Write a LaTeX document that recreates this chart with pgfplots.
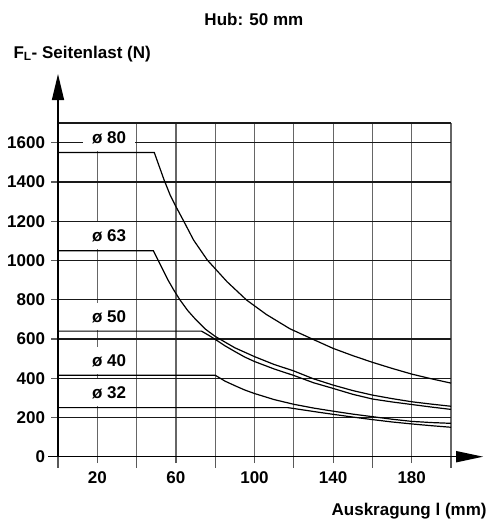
\documentclass[border=0pt]{standalone}
\usepackage{fontspec}
\setmainfont{Liberation Sans}
\usepackage{pgfplots}
\pgfplotsset{compat=1.18}
\usetikzlibrary{arrows.meta}
\newcommand\lbl{\fontsize{17}{20}\selectfont\bfseries}
\begin{document}
\begin{tikzpicture}
\useasboundingbox (-58pt,-65.3pt) rectangle (436pt,456.7pt);
\begin{axis}[
  at={(0pt,0pt)}, anchor=origin,
  scale only axis, width=393pt, height=333.6pt,
  xmin=0, xmax=200, ymin=0, ymax=1700,
  clip=false,
  axis line style={draw=none},
  tick align=outside,
  xtick pos=lower, ytick pos=left,
  xtick={0,20,...,200}, xticklabels={},
  minor xtick={0,40,...,200},
  major tick length=6.5pt, minor tick length=11pt,
  extra x ticks={20,60,100,140,180},
  extra x tick labels={20,60,100,140,180},
  extra x tick style={major tick length=0pt, grid=none},
  ytick={0,200,...,1600},
  grid=major,
  major x grid style={black!60, line width=1.2pt},
  major y grid style={black!90, line width=1.1pt},
  tick style={black!65, line width=1.2pt},
  /pgf/number format/assume math mode=true,
  /pgf/number format/1000 sep={},
  ticklabel style={font=\lbl},
  xticklabel style={yshift=-11.5pt},
  yticklabel style={xshift=-3pt},
]
% axes and frame
\draw[black!90, line width=1.2pt] (axis cs:0,1700) -- (axis cs:200,1700);
\draw[black, line width=1.5pt, -{Triangle[length=26pt,width=12pt]}] (axis cs:0,0) -- (axis cs:0,1950);
\draw[black, line width=1.5pt, -{Triangle[length=27pt,width=11pt]}] (axis cs:-5,0) -- (axis cs:216.4,0);
% label boxes
\node[fill=white, anchor=south, minimum width=52pt, minimum height=27pt, inner sep=0pt, font=\lbl] at (axis cs:26,1555) {ø 80};
\node[fill=white, anchor=south, minimum width=52pt, minimum height=27pt, inner sep=0pt, font=\lbl] at (axis cs:26,1055) {ø 63};
\node[fill=white, anchor=south, minimum width=52pt, minimum height=27pt, inner sep=0pt, font=\lbl] at (axis cs:26,645) {ø 50};
\node[fill=white, anchor=south, minimum width=52pt, minimum height=27pt, inner sep=0pt, font=\lbl] at (axis cs:26,420) {ø 40};
\node[fill=white, anchor=south, minimum width=52pt, minimum height=27pt, inner sep=0pt, font=\lbl] at (axis cs:26,255) {ø 32};
% curves
\addplot[black, line width=1.2pt] coordinates {
(0,1550)(49,1550)(51.5,1480)(54,1410)(57,1335)(60,1275)(64,1200)(69,1104)(76,1002)(86,892)(96,798)(106,725)(118,652)(130,597)(140,552)(150,515)(160,481)(170,450)(180,421)(190,397)(200,375)};
\addplot[black, line width=1.2pt] coordinates {
(0,1050)(48.5,1050)(51,1000)(53.5,950)(56,900)(59,848)(62,800)(66,745)(70,700)(75,650)(80,613)(90,555)(100,510)(110,470)(120,437)(130,397)(140,365)(150,337)(160,314)(170,296)(180,280)(190,268)(200,257)};
\addplot[black, line width=1.2pt] coordinates {
(0,640)(73,640)(76.5,620)(80,598)(85,565)(90,536)(95,508)(100,485)(110,447)(120,414)(130,377)(140,348)(150,318)(160,294)(170,279)(180,266)(190,253)(200,241)};
\addplot[black, line width=1.2pt] coordinates {
(0,415)(80,415)(85,385)(90,362)(95,340)(100,322)(110,291)(120,267)(130,248)(140,232)(150,217)(160,204)(170,191)(180,180)(190,174)(200,170)};
\addplot[black, line width=1.2pt] coordinates {
(0,250)(117,250)(125,238)(133,226)(140,216)(150,202)(160,189)(170,177)(180,167)(190,158)(200,150)};
% texts
\node[anchor=base, font=\lbl] at (axis cs:99.7,2198) {Hub: 50 mm};
\node[anchor=base west, font=\lbl, inner sep=0pt] at (axis cs:-22.7,2030) {F\textsubscript{L}- Seitenlast (N)};
\node[anchor=base east, font=\lbl, inner sep=0pt] at (axis cs:218.2,-302) {Auskragung l (mm)};
\end{axis}
\end{tikzpicture}
\end{document}
